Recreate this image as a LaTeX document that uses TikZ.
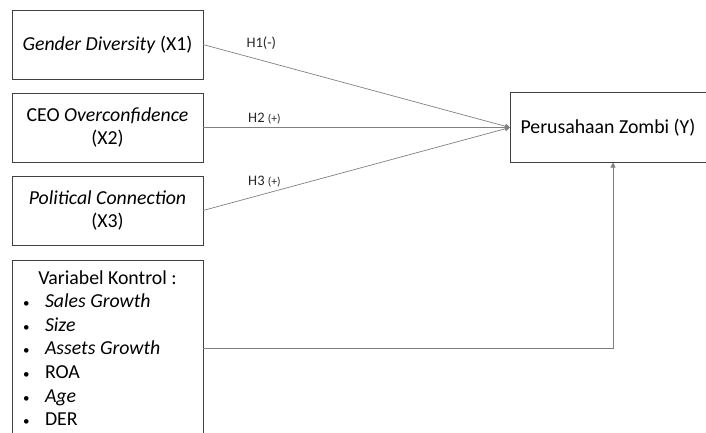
\documentclass[tikz,border=0pt]{standalone}
\usepackage{fontspec}
\setmainfont{Carlito}
\usetikzlibrary{positioning,arrows.meta}

\begin{document}
\begin{tikzpicture}[x=1pt, y=-1pt,
	var/.style={rectangle, draw=black!75, line width=0.9pt, minimum width=191pt, minimum height=69pt, outer sep=0pt, align=center, font=\fontsize{19.8}{23.6}\selectfont},
	conn/.style={draw=black!50, line width=0.7pt, -{Triangle[length=5pt,width=5pt]}},
	hyp/.style={font=\fontsize{14.5}{16}\selectfont, text=black!85, inner sep=1pt},
	node distance=14pt
	]
	\useasboundingbox (0,0) rectangle (706,432);
	% Variabel independen
	\node[var] (x1) at (107.5,44.5) {\textit{Gender Diversity} (X1)};
	\node[var, below=of x1] (x2) {CEO \textit{Overconfidence}\\(X2)};
	\node[var, below=of x2] (x3) {\textit{Political Connection}\\(X3)};
	
	% Variabel kontrol
	\node[var, below=15pt of x3, minimum height=176pt, inner xsep=10pt, align=left] (ctrl) {
		\makebox[171pt]{Variabel Kontrol :}\\
		\makebox[23pt][l]{\hspace{1pt}\fontsize{13}{13}\selectfont\textbullet}\textit{Sales Growth}\\
		\makebox[23pt][l]{\hspace{1pt}\fontsize{13}{13}\selectfont\textbullet}\textit{Size}\\
		\makebox[23pt][l]{\hspace{1pt}\fontsize{13}{13}\selectfont\textbullet}\textit{Assets Growth}\\
		\makebox[23pt][l]{\hspace{1pt}\fontsize{13}{13}\selectfont\textbullet}ROA\\
		\makebox[23pt][l]{\hspace{1pt}\fontsize{13}{13}\selectfont\textbullet}\textit{Age}\\
		\makebox[23pt][l]{\hspace{1pt}\fontsize{13}{13}\selectfont\textbullet}DER
	};
	
	% Variabel dependen
	\node[var, right=307pt of x2, minimum width=196pt, minimum height=70pt] (y) {Perusahaan Zombi (Y)};
	
	\draw[conn] (x1.east) -- node[hyp, pos=0.19, above=9pt] {H1(-)} (y.west);
	\draw[conn] (x2.east) -- node[hyp, pos=0.2, above=2pt] {H2 {\fontsize{11.5}{12}\selectfont(+)}} (y.west);
	\draw[conn] (x3.east) -- node[hyp, pos=0.2, above=5pt] {H3 {\fontsize{11.5}{12}\selectfont(+)}} (y.west);
	
	\draw[conn] (ctrl.east) -| ([xshift=5pt]y.south);
\end{tikzpicture}
\end{document}
